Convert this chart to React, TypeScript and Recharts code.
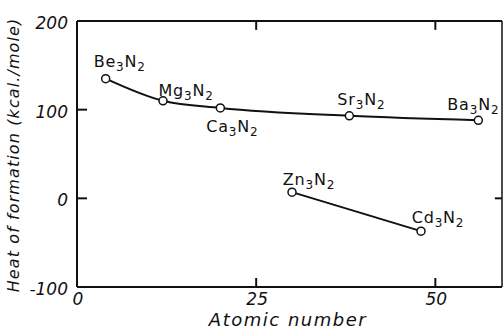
import React from "react";
import {
  ComposedChart,
  Line,
  XAxis,
  YAxis,
  LabelList,
  ReferenceLine,
} from "recharts";

// Alkaline-earth nitrides M3N2
const alkalineMetals = ["Be", "Mg", "Ca", "Sr", "Ba"];
const alkalineZ = [4, 12, 20, 38, 56];
const alkalineHeat = [135, 110, 102, 93, 88];

// Zinc-group nitrides M3N2
const zincMetals = ["Zn", "Cd"];
const zincZ = [30, 48];
const zincHeat = [7, -37];

const xTicks = [0, 25, 50];
const yTicks = [-100, 0, 100, 200];
const topTicks = [25, 50];
const rightTicks = [0];
const xDomain: [number, number] = [0, 59.3];
const yDomain: [number, number] = [-100, 200];

// inward tick lengths for the top and right edges of the frame (axis units)
const TOP_TICK_LEN = 10;
const RIGHT_TICK_LEN = 1;

// label placement relative to each marker (dx, dy to baseline)
const labelPlacement: Record<string, [number, number]> = {
  Be: [14, -12],
  Mg: [23, -5],
  Ca: [12, 24],
  Sr: [12, -11],
  Ba: [-5, -10],
  Zn: [17, -7],
  Cd: [17, -8],
};

const build = (metals: string[], z: number[], heat: number[]) =>
  metals.map((m, i) => ({ metal: m, z: z[i], heat: heat[i] }));

const alkalineData = build(alkalineMetals, alkalineZ, alkalineHeat);
const zincData = build(zincMetals, zincZ, zincHeat);

const FONT = "'DejaVu Sans', sans-serif";
const INK = "#111";

const FormulaLabel = (props: any) => {
  const { x, y, value } = props;
  const [dx, dy] = labelPlacement[value] || [0, -10];
  return (
    <text
      x={x + dx}
      y={y + dy}
      textAnchor="middle"
      fontFamily={FONT}
      fontSize={16}
      letterSpacing={0.8}
      fill={INK}
    >
      {value}
      <tspan fontSize={12} dy={4}>3</tspan>
      <tspan dy={-4}>N</tspan>
      <tspan fontSize={12} dy={4}>2</tspan>
    </text>
  );
};

const Dot = (props: any) => {
  const { cx, cy } = props;
  return <circle cx={cx} cy={cy} r={4} fill="#fff" stroke={INK} strokeWidth={1.5} />;
};

const XTick = (props: any) => {
  const { x, y, payload } = props;
  return (
    <text
      x={x + 1}
      y={y + 16}
      textAnchor="middle"
      fontFamily={FONT}
      fontStyle="italic"
      fontSize={17}
      fill={INK}
    >
      {payload.value}
    </text>
  );
};

const YTick = (props: any) => {
  const { x, y, payload } = props;
  return (
    <text
      x={x}
      y={y + 8}
      textAnchor="end"
      fontFamily={FONT}
      fontStyle="italic"
      fontSize={17}
      fill={INK}
    >
      {payload.value}
    </text>
  );
};

const EmptyTick = () => <g />;

const YTitle = () => (
  <text
    transform="translate(19,155) rotate(-90)"
    textAnchor="middle"
    fontFamily={FONT}
    fontStyle="italic"
    fontSize={16}
    letterSpacing={1.1}
    fill={INK}
  >
    Heat of formation (kcal./mole)
  </text>
);

const XTitle = () => (
  <text
    x={288}
    y={326}
    textAnchor="middle"
    fontFamily={FONT}
    fontStyle="italic"
    fontSize={18}
    letterSpacing={1.5}
    fill={INK}
  >
    Atomic number
  </text>
);

const frame = { stroke: INK, strokeWidth: 2 };

export default function App() {
  const [, xMax] = xDomain;
  const [, yMax] = yDomain;
  return (
    <div style={{ position: "absolute", left: 0, top: 0, background: "#fff" }}>
      <ComposedChart
        width={504}
        height={329}
        margin={{ top: 20, right: 1, left: 0, bottom: 0 }}
      >
        {/* bottom axis: labels outside, tick marks turned inward */}
        <XAxis
          dataKey="z"
          type="number"
          domain={xDomain}
          ticks={xTicks}
          allowDataOverflow
          height={42}
          tickSize={-9}
          tickMargin={11}
          tickLine={frame}
          axisLine={frame}
          tick={<XTick />}
        />
        <XAxis
          xAxisId="top"
          orientation="top"
          type="number"
          domain={xDomain}
          allowDataOverflow
          height={1}
          tickLine={false}
          axisLine={frame}
          tick={<EmptyTick />}
        />
        {/* left axis: labels outside, tick marks turned inward */}
        <YAxis
          type="number"
          domain={yDomain}
          ticks={yTicks}
          allowDataOverflow
          width={77}
          tickSize={-10}
          tickMargin={19}
          tickLine={frame}
          axisLine={frame}
          tick={<YTick />}
        />
        <YAxis
          yAxisId="right"
          orientation="right"
          type="number"
          domain={yDomain}
          allowDataOverflow
          width={1}
          tickLine={false}
          axisLine={{ stroke: INK, strokeWidth: 1.5 }}
          tick={<EmptyTick />}
        />
        {topTicks.map((v) => (
          <ReferenceLine
            key={`t${v}`}
            ifOverflow="visible"
            segment={[{ x: v, y: yMax }, { x: v, y: yMax - TOP_TICK_LEN }]}
            stroke={INK}
            strokeWidth={2}
          />
        ))}
        {rightTicks.map((v) => (
          <ReferenceLine
            key={`r${v}`}
            ifOverflow="visible"
            segment={[{ x: xMax, y: v }, { x: xMax - RIGHT_TICK_LEN, y: v }]}
            stroke={INK}
            strokeWidth={2}
          />
        ))}
        <Line
          data={alkalineData}
          dataKey="heat"
          type="monotone"
          stroke={INK}
          strokeWidth={2}
          dot={<Dot />}
          activeDot={false}
          isAnimationActive={false}
        >
          <LabelList dataKey="metal" content={<FormulaLabel />} />
        </Line>
        <Line
          data={zincData}
          dataKey="heat"
          type="linear"
          stroke={INK}
          strokeWidth={2}
          dot={<Dot />}
          activeDot={false}
          isAnimationActive={false}
        >
          <LabelList dataKey="metal" content={<FormulaLabel />} />
        </Line>
      </ComposedChart>
      <svg
        width={504}
        height={329}
        style={{ position: "absolute", left: 0, top: 0, pointerEvents: "none" }}
      >
        <YTitle />
        <XTitle />
      </svg>
    </div>
  );
}
